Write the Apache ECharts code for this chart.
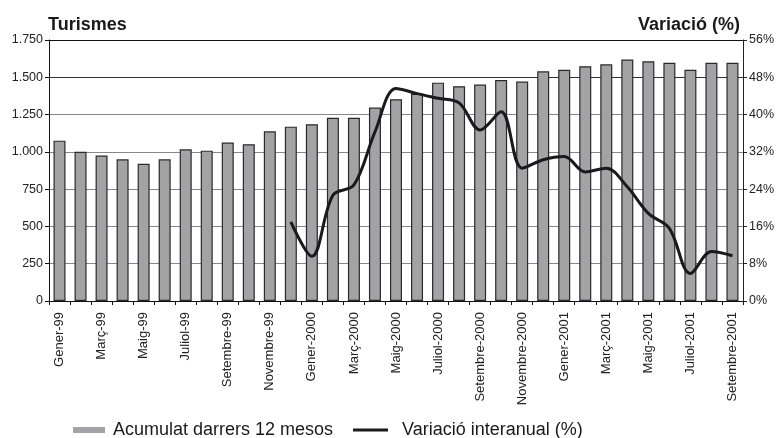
<!DOCTYPE html>
<html>
<head>
<meta charset="utf-8">
<script src="https://cdn.jsdelivr.net/npm/echarts@6/dist/echarts.min.js"></script>
<style>
html,body{margin:0;padding:0;background:#fff;}
#chart{width:777px;height:438px;}
</style>
</head>
<body>
<div id="chart"></div>
<script>
var categories = [
  'Gener-99','Febrer-99','Març-99','Abril-99','Maig-99','Juny-99','Juliol-99','Agost-99','Setembre-99','Octubre-99','Novembre-99','Desembre-99',
  'Gener-2000','Febrer-2000','Març-2000','Abril-2000','Maig-2000','Juny-2000','Juliol-2000','Agost-2000','Setembre-2000','Octubre-2000','Novembre-2000','Desembre-2000',
  'Gener-2001','Febrer-2001','Març-2001','Abril-2001','Maig-2001','Juny-2001','Juliol-2001','Agost-2001','Setembre-2001'
];
var acumulat = [
  1075, 1000, 975, 950, 920, 950, 1017, 1008, 1062, 1051, 1138, 1169,
  1185, 1229, 1229, 1297, 1353, 1390, 1464, 1440, 1451, 1482, 1471, 1540,
  1551, 1574, 1587, 1619, 1608, 1597, 1551, 1597, 1597
];
var variacio = [
  null, null, null, null, null, null, null, null, null, null, null, 17.0,
  9.6, 22.7, 24.9, 36.3, 45.6, 44.5, 43.5, 42.5, 36.7, 40.6, 28.5, 30.3,
  31.0, 27.7, 28.5, 24.5, 18.8, 15.6, 5.9, 10.6, 9.7
];
var seriesNames = ['Acumulat darrers 12 mesos', 'Variació interanual (%)'];
var leftAxisName = 'Turismes';
var rightAxisName = 'Variació (%)';

var chart = echarts.init(document.getElementById('chart'), null, {renderer: 'canvas'});
var font = 'Liberation Sans, Arial, Helvetica, sans-serif';
var option = {
  animation: false,
  textStyle: {fontFamily: font},
  title: [
    {text: leftAxisName, left: 48, top: 16, padding: 0,
     textStyle: {fontFamily: font, fontSize: 18, fontWeight: 'bold', color: '#1a1a1a'}},
    {text: rightAxisName, right: 37, top: 16, padding: 0,
     textStyle: {fontFamily: font, fontSize: 18, fontWeight: 'bold', color: '#1a1a1a'}}
  ],
  legend: [
    {data: [{name: seriesNames[0], icon: 'rect', itemStyle: {borderWidth: 0, color: '#a3a3a6'}}],
     left: 73, top: 420, itemWidth: 32, itemHeight: 6, padding: 0,
     textStyle: {fontFamily: font, fontSize: 18, color: '#1a1a1a', padding: [0,0,0,3], lineHeight: 20}},
    {data: [{name: seriesNames[1], icon: 'rect', itemStyle: {color: '#1a1a1a', borderWidth: 0}}],
     left: 353, top: 420, itemWidth: 35, itemHeight: 3, padding: 0,
     textStyle: {fontFamily: font, fontSize: 18, color: '#1a1a1a', padding: [0,0,0,9], lineHeight: 20}}
  ],
  grid: {left: 49, right: 34, top: 40, bottom: 137, containLabel: false},
  xAxis: {
    type: 'category',
    data: categories,
    boundaryGap: true,
    axisLine: {lineStyle: {color: '#111', width: 1}},
    axisTick: {show: true, interval: 0, length: 4, lineStyle: {color: '#111'}},
    axisLabel: {interval: 1, rotate: 90, fontSize: 13, color: '#222', margin: 11, fontFamily: font}
  },
  yAxis: [
    {
      type: 'value', min: 0, max: 1750, interval: 250,
      axisLine: {show: true, lineStyle: {color: '#111'}},
      axisTick: {show: true, length: 4, lineStyle: {color: '#111'}},
      axisLabel: {fontSize: 12.5, color: '#222', margin: 6, fontFamily: font,
        formatter: function (v) { return v >= 1000 ? Math.floor(v/1000) + '.' + String(v%1000).padStart(3,'0') : String(v); }},
      splitLine: {show: true, lineStyle: {color: ['#777','#888','#888','#888','#888','#888','#333','#111'], width: 1}}
    },
    {
      type: 'value', min: 0, max: 56, interval: 8, position: 'right',
      axisLine: {show: true, lineStyle: {color: '#222'}},
      axisTick: {show: true, length: 4, lineStyle: {color: '#222'}},
      axisLabel: {fontSize: 12.5, color: '#222', margin: 6, fontFamily: font, formatter: '{value}%'},
      splitLine: {show: false}
    }
  ],
  series: [
    {
      name: seriesNames[0], type: 'bar', data: acumulat, yAxisIndex: 0,
      barWidth: 12,
      itemStyle: {color: '#a3a3a6', borderColor: '#2a2a2a', borderWidth: 1.2}
    },
    {
      name: seriesNames[1], type: 'line', data: variacio, yAxisIndex: 1,
      smooth: 0.35, symbol: 'none', showSymbol: false, connectNulls: false,
      lineStyle: {color: '#1a1a1a', width: 3},
      itemStyle: {color: '#1a1a1a'}
    }
  ]
};
chart.setOption(option);
</script>
</body>
</html>
